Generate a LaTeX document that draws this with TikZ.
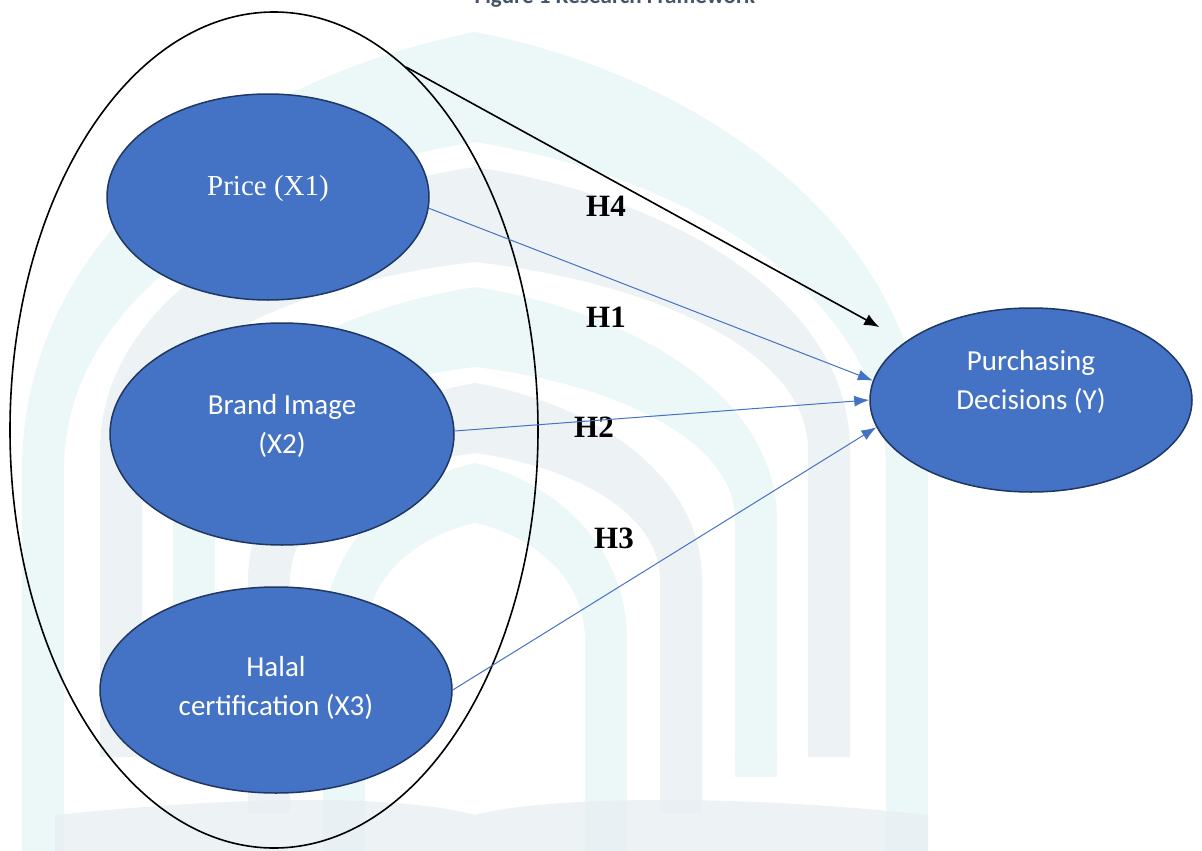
\documentclass[tikz,border=0pt]{standalone}
\usepackage{fontspec}
\setmainfont{Liberation Serif}
\newfontfamily\calibri{Carlito}
\usetikzlibrary{shapes.geometric,arrows.meta}
\definecolor{nodeblue}{HTML}{4472C4}
\definecolor{nodeedge}{HTML}{1F3763}
\definecolor{capgray}{HTML}{44546A}
\definecolor{wmteal}{HTML}{E6F4F5}
\definecolor{wmgray}{HTML}{E7EEF2}
\tikzset{
  var/.style={ellipse, fill=nodeblue, draw=nodeedge, line width=1.5pt, inner sep=0pt},
  vtext/.style={text=white, align=center},
  serifvar/.style={vtext, font=\fontsize{29}{39}\selectfont},
  sansvar/.style={vtext, font=\calibri\fontsize{29}{39}\selectfont},
  hyp/.style={font=\bfseries\fontsize{31}{33}\selectfont, text=black, inner sep=0pt},
  bluearrow/.style={draw=nodeblue, line width=1pt, -{Latex[length=15pt,width=11pt]}},
  blackarrow/.style={draw=black, line width=1.6pt, -{Latex[length=15pt,width=12pt]}},
}
% watermark arch: #1 outer half width, #2 apex y, #3 springing y, #4 thickness at apex, #5 bottom y, #6 colour
\newcommand{\wmarch}[6]{%
  \pgfmathsetmacro{\wo}{#1}\pgfmathsetmacro{\wi}{#1-42}%
  \pgfmathsetmacro{\ai}{#2+#4}%
  \fill[#6, fill opacity=0.75, even odd rule]
    (475-\wo,#5) -- (475-\wo,#3)
      .. controls (475-\wo,{#2+0.45*(#3-#2)}) and (475-0.5*\wo,{#2+0.1*(#3-#2)}) .. (475,#2)
      .. controls (475+0.5*\wo,{#2+0.1*(#3-#2)}) and (475+\wo,{#2+0.45*(#3-#2)}) .. (475+\wo,#3)
      -- (475+\wo,#5) -- cycle
    (475-\wi,#5) -- (475-\wi,#3)
      .. controls (475-\wi,{\ai+0.45*(#3-\ai)}) and (475-0.5*\wi,{\ai+0.1*(#3-\ai)}) .. (475,\ai)
      .. controls (475+0.5*\wi,{\ai+0.1*(#3-\ai)}) and (475+\wi,{\ai+0.45*(#3-\ai)}) .. (475+\wi,#3)
      -- (475+\wi,#5) -- cycle;}
\begin{document}
\begin{tikzpicture}[x=1pt,y=-1pt]
\useasboundingbox (0,0) rectangle (1202,851);
\clip (0,0) rectangle (1202,851);
% faint background watermark
\wmarch{453}{32}{470}{110}{851}{wmteal}
\wmarch{375}{167}{450}{95}{757}{wmgray}
\wmarch{302}{287}{520}{80}{777}{wmteal}
\wmarch{227}{383}{580}{70}{813}{wmgray}
\wmarch{152}{463}{640}{60}{851}{wmteal}
\fill[wmgray, fill opacity=0.75] (55,851) -- (55,815) .. controls (250,795) and (400,795) .. (475,815)
  .. controls (550,795) and (750,795) .. (928,815) -- (928,851) -- cycle;
% caption (cut at top)
\node[anchor=base, font=\calibri\bfseries\fontsize{23}{25}\selectfont, text=capgray] (cap) at (615,4) {Figure 1 Research Framework};
% outer grouping ellipse
\node[ellipse, draw=black, line width=1.6pt, minimum width=528pt, minimum height=836pt, inner sep=0pt] (group) at (274,430) {};
% variables
\node[var, minimum width=322pt, minimum height=206pt] (price) at (268,197) {};
\node[var, minimum width=344pt, minimum height=222pt] (brand) at (282,434) {};
\node[var, minimum width=352pt, minimum height=206pt] (halal) at (276,690) {};
\node[var, minimum width=322pt, minimum height=184pt] (purch) at (1031,400) {};
\node[serifvar, yshift=8pt] (pricet) at (price) {Price (X1)};
\node[sansvar, yshift=8pt] (brandt) at (brand) {Brand Image\\(X2)};
\node[sansvar, yshift=2pt] (halalt) at (halal) {Halal\\certification (X3)};
\node[sansvar, yshift=18pt] (purcht) at (purch) {Purchasing\\Decisions (Y)};
% hypothesis labels
\node[hyp] (h4) at (606,206) {H4};
\node[hyp] (h1) at (606,317) {H1};
\node[hyp] (h2) at (594,427) {H2};
\node[hyp] (h3) at (614,538) {H3};
% connectors
\draw[blackarrow, shorten >=30pt] (group.70) -- (purch.155);
\draw[bluearrow] (price.-4) -- (purch.173);
\draw[bluearrow] (brand.1) -- (purch.180);
\draw[bluearrow] (halal.0) -- (purch.-170);
\end{tikzpicture}
\end{document}
